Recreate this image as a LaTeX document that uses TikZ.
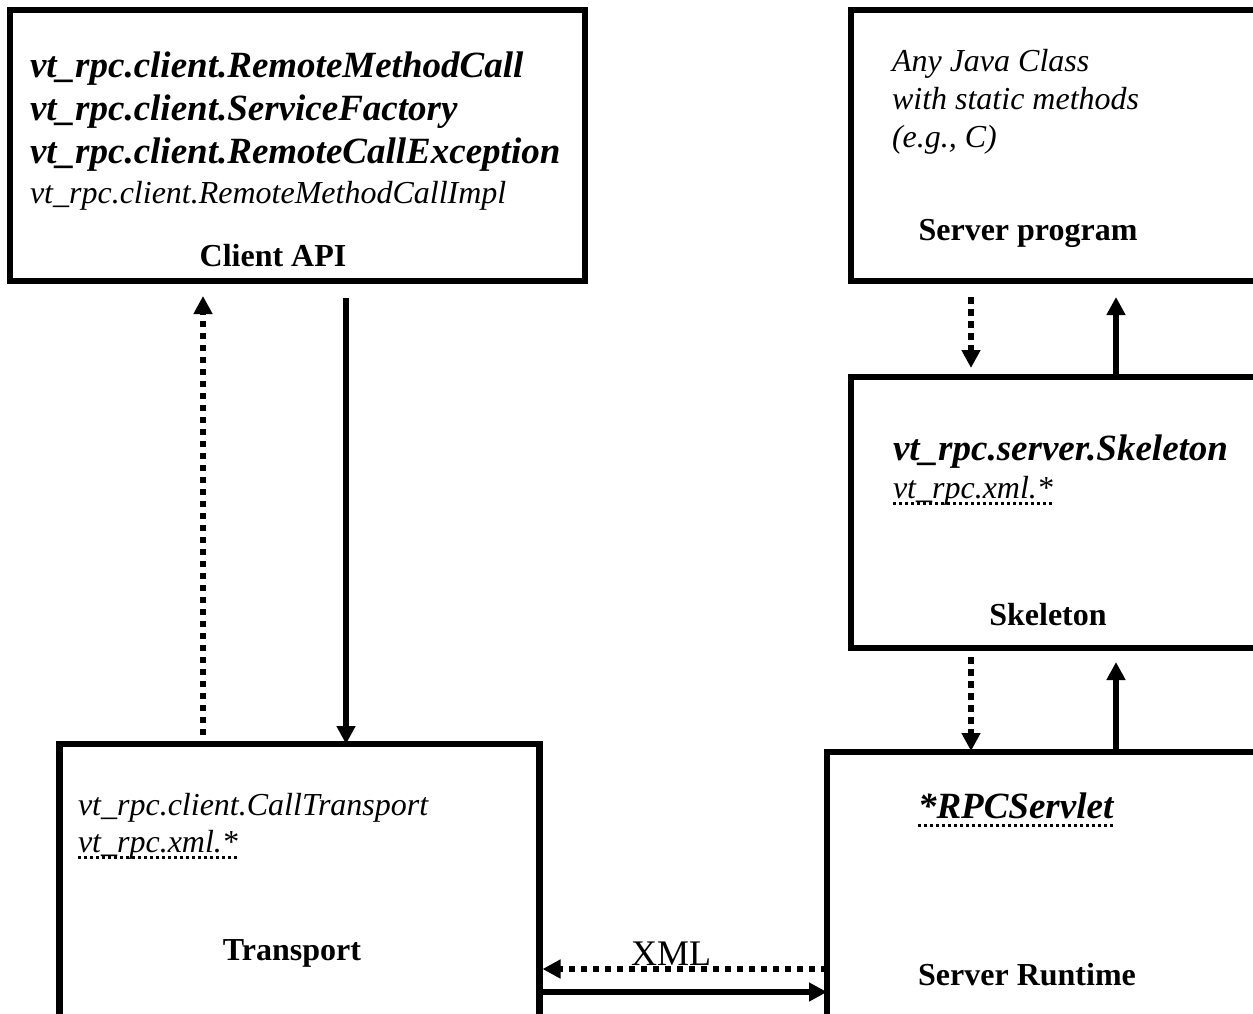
\documentclass[tikz,border=0pt]{standalone}
\usepackage{fontspec}
\setmainfont{Liberation Serif}
\usetikzlibrary{arrows.meta}
\begin{document}
\begin{tikzpicture}[x=1pt,y=-1pt,
  box/.style={draw, line width=6.5pt, inner sep=0pt, outer sep=0pt},
  txt/.style={anchor=base west, inner sep=0pt, outer sep=0pt},
  bi/.style={txt, font=\fontsize{37}{44}\selectfont\bfseries\itshape},
  it/.style={txt, font=\fontsize{32}{38}\selectfont\itshape},
  lbl/.style={anchor=base, inner sep=0pt, outer sep=0pt, font=\fontsize{32}{38}\selectfont\bfseries},
  solidarr/.style={line width=6pt, -{Triangle[width=18pt,length=18pt]}},
  dotarr/.style={line width=6.5pt, dash pattern=on 6.5pt off 5.5pt, -{Triangle[width=18pt,length=18pt]}},
  ul/.style={line width=3pt, dash pattern=on 3pt off 3pt},
]
\useasboundingbox (0,0) rectangle (1253,1014);
\fill[white] (0,0) rectangle (1253,1014);

% boxes
\node[box, minimum width=575pt, minimum height=271pt] (client) at (297.5,145.5) {};
\node[box, minimum width=439pt, minimum height=271pt] (prog) at (1070.5,145.5) {};
\node[box, minimum width=439pt, minimum height=271pt] (skel) at (1070.5,512.5) {};
\node[box, minimum width=464pt, minimum height=298pt] (runtime) at (1059,901) {};
\node[box, minimum width=480pt, minimum height=306pt] (transport) at (299.5,897) {};

% client API text
\node[bi] (c1) at (30,78) {vt\_rpc.client.RemoteMethodCall};
\node[bi] (c2) at (30,121) {vt\_rpc.client.ServiceFactory};
\node[bi] (c3) at (30,164) {vt\_rpc.client.RemoteCallException};
\node[it] (c4) at (30,204) {vt\_rpc.client.RemoteMethodCallImpl};
\node[lbl] (clientlbl) at (273,266) {Client API};

% server program text
\node[it] (p1) at (892,72) {Any Java Class};
\node[it] (p2) at (892,110) {with static methods};
\node[it] (p3) at (892,147) {(e.g., C)};
\node[lbl] (proglbl) at (1028,240) {Server program};

% skeleton text
\node[bi] (s1) at (893,460) {vt\_rpc.server.Skeleton};
\node[it] (s2) at (893,498) {vt\_rpc.xml.*};
\draw[ul] ([yshift=-5pt]s2.base west) -- ([yshift=-5pt]s2.base east);
\node[lbl] (skellbl) at (1048,625) {Skeleton};

% transport text
\node[it] (t1) at (78,815) {vt\_rpc.client.CallTransport};
\node[it] (t2) at (78,852) {vt\_rpc.xml.*};
\draw[ul] ([yshift=-5pt]t2.base west) -- ([yshift=-5pt]t2.base east);
\node[lbl] (translbl) at (292,960) {Transport};

% runtime text
\node[bi] (r1) at (918,818) {*RPCServlet};
\draw[ul] ([yshift=-7pt]r1.base west) -- ([yshift=-7pt]r1.base east);
\node[lbl] (rtlbl) at (1027,985) {Server Runtime};

% client <-> transport
\draw[solidarr] ([xshift=336pt,yshift=-17pt]client.south west) -- ([xshift=286.5pt]transport.north west);
\draw[dotarr] ([xshift=143.5pt,yshift=-3pt]transport.north west) -- ([xshift=193pt,yshift=-15pt]client.south west);

% server program <-> skeleton
\draw[dotarr] ([xshift=120pt,yshift=-16pt]prog.south west) -- ([xshift=120pt,yshift=9pt]skel.north west);
\draw[solidarr] ([xshift=265pt]skel.north west) -- ([xshift=265pt,yshift=-16pt]prog.south west);

% skeleton <-> runtime
\draw[dotarr] ([xshift=120pt,yshift=-9pt]skel.south west) -- ([xshift=144pt,yshift=1pt]runtime.north west);
\draw[solidarr] ([xshift=289pt]runtime.north west) -- ([xshift=265pt,yshift=-14pt]skel.south west);

% transport <-> runtime
\node[anchor=base, inner sep=0pt, font=\fontsize{36}{40}\selectfont] (xmllbl) at (671,965) {XML};
\draw[dotarr] ([yshift=-217pt]runtime.north west) -- ([yshift=-225pt,xshift=3pt]transport.north east);
\draw[solidarr] ([yshift=-248pt]transport.north east) -- ([yshift=-240pt]runtime.north west);
\end{tikzpicture}
\end{document}
